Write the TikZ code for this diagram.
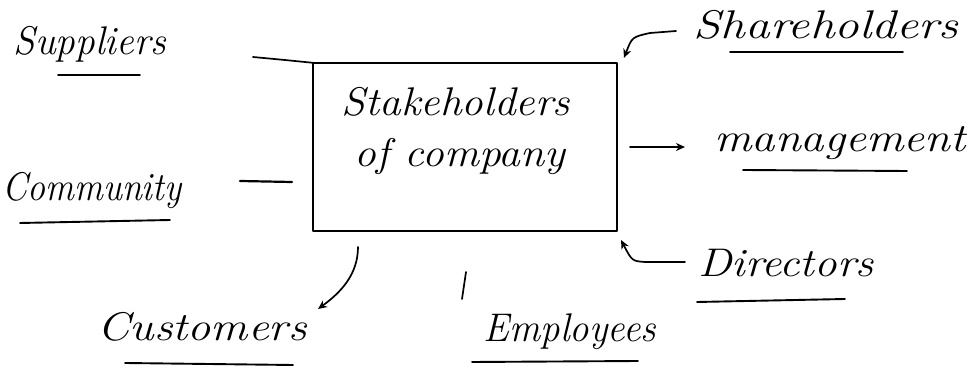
\documentclass[tikz,border=0pt]{standalone}
\usetikzlibrary{arrows.meta}
\newcommand{\wide}[2]{\scalebox{#1}[1]{#2}}
\begin{document}
\begin{tikzpicture}[x=1pt,y=-1pt,
  ink/.style={line width=1.7pt,line cap=round,line join=round,black},
  label/.style={font=\fontsize{40}{40}\selectfont\itshape,inner sep=0pt,anchor=center},
  uline/.style={ink,line width=1.9pt},
  tip/.style={-{Stealth[length=9pt,width=8pt]}}]
\useasboundingbox (0,0) rectangle (970,387);

% central box
\draw[ink] (313,63) rectangle (617,231);
\node[inner sep=0pt] (box) at (465,147) [minimum width=304pt,minimum height=168pt] {};
\node[label] (t1) at (456,102) {\wide{1.08}{Stakeholders}};
\node[label] (t2) at (460,157) {\wide{1.09}{of company}};

% stakeholder labels
\node[label] (sup) at (90,44) {\wide{0.98}{Suppliers}};
\node[label] (com) at (92,191) {\wide{0.9}{Community}};
\node[label] (cus) at (202,327) {\wide{1.16}{Customers}};
\node[label] (emp) at (570,332) {\wide{0.97}{Employees}};
\node[label] (dir) at (786,263) {\wide{1.13}{Directors}};
\node[label] (man) at (840,143) {\wide{1.17}{management}};
\node[label] (sha) at (826,25) {\wide{1.23}{Shareholders}};

% underlines
\draw[uline] (58,75) -- (140,75);
\draw[uline] (20,223) -- (170,220);
\draw[uline] (125,363) -- (293,365);
\draw[uline] (472,362) -- (638,361);
\draw[uline] (697,302) -- (845,299);
\draw[uline] (743,170) -- (907,171);
\draw[uline] (730,52) -- (903,52);

% connectors
\coordinate (supA) at (253,57);
\draw[ink] (supA) .. controls (285,60) .. (box.north west);

\coordinate (comA) at (240,181);
\coordinate (comB) at (292,182);
\draw[ink,line width=2.2pt] (comA) -- (comB);

\coordinate (cusA) at (358,247);
\coordinate (cusB) at (318,309);
\draw[ink,tip] (cusA) .. controls (358,275) and (340,293) .. (cusB);

\coordinate (empA) at (466,272);
\coordinate (empB) at (462,299);
\draw[ink] (empA) -- (empB);

\coordinate (dirA) at (685,262);
\coordinate (dirB) at (621,240);
\draw[ink,tip] (dirA) -- (645,262) .. controls (632,261) .. (dirB);

\coordinate (manA) at (630,147);
\coordinate (manB) at (685,147);
\draw[ink,tip] (manA) -- (manB);

\coordinate (shaA) at (676,31);
\coordinate (shaB) at (624,58);
\draw[ink,tip] (shaA) -- (650,33) .. controls (632,37) .. (shaB);
\end{tikzpicture}
\end{document}
